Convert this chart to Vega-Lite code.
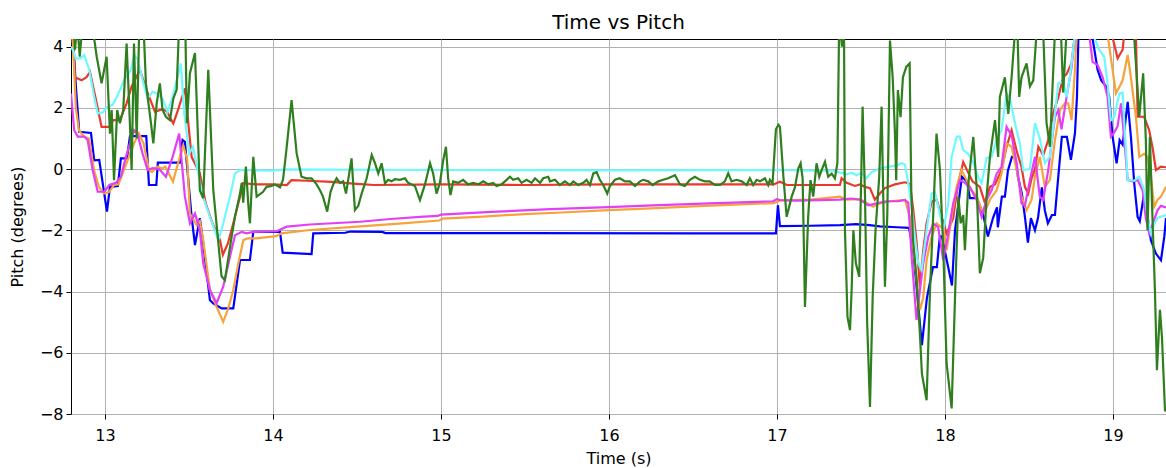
{
"$schema": "https://vega.github.io/schema/vega-lite/v6.json",
"width": 1095, "height": 375,
"autosize": "none",
"padding": {"left": 71, "top": 39, "right": 0, "bottom": 54},
"background": "white",
"title": {"text": "Time vs Pitch", "offset": 6},
"datasets": {
"blue": [
{"t":12.798,"v":4.8},{"t":12.808,"v":4.5},{"t":12.827,"v":2.7},{"t":12.847,"v":1.22},{"t":12.917,"v":1.18},{"t":12.936,"v":0.29},{"t":12.966,"v":0.3},{"t":12.99,"v":-0.58},{"t":13.012,"v":-1.39},{"t":13.03,"v":-0.58},{"t":13.077,"v":-0.55},{"t":13.095,"v":0.35},{"t":13.131,"v":0.35},{"t":13.149,"v":1.08},{"t":13.246,"v":1.08},{"t":13.262,"v":-0.52},{"t":13.306,"v":-0.52},{"t":13.315,"v":0.21},{"t":13.446,"v":0.21},{"t":13.462,"v":0.95},{"t":13.476,"v":0.89},{"t":13.516,"v":-1.56},{"t":13.536,"v":-2.48},{"t":13.565,"v":-1.6},{"t":13.585,"v":-2.42},{"t":13.625,"v":-4.28},{"t":13.645,"v":-4.39},{"t":13.695,"v":-4.55},{"t":13.764,"v":-4.55},{"t":13.804,"v":-2.97},{"t":13.863,"v":-2.97},{"t":13.883,"v":-2.05},{"t":14.042,"v":-2.05},{"t":14.058,"v":-2.73},{"t":14.23,"v":-2.78},{"t":14.24,"v":-2.1},{"t":14.43,"v":-2.08},{"t":14.46,"v":-2.04},{"t":14.65,"v":-2.05},{"t":14.67,"v":-2.09},{"t":15.5,"v":-2.09},{"t":16.5,"v":-2.1},{"t":16.994,"v":-2.1},{"t":17.006,"v":-1.18},{"t":17.018,"v":-1.86},{"t":17.2,"v":-1.85},{"t":17.375,"v":-1.83},{"t":17.47,"v":-1.8},{"t":17.55,"v":-1.83},{"t":17.613,"v":-1.87},{"t":17.714,"v":-1.9},{"t":17.786,"v":-1.92},{"t":17.81,"v":-2.6},{"t":17.833,"v":-3.95},{"t":17.863,"v":-5.75},{"t":17.893,"v":-4.2},{"t":17.929,"v":-3.2},{"t":17.952,"v":-3.2},{"t":17.97,"v":-2.2},{"t":17.982,"v":-2.2},{"t":18.012,"v":-3.0},{"t":18.042,"v":-3.8},{"t":18.06,"v":-2.0},{"t":18.101,"v":-0.25},{"t":18.131,"v":-0.4},{"t":18.149,"v":-0.95},{"t":18.19,"v":-0.95},{"t":18.226,"v":-1.45},{"t":18.256,"v":-2.2},{"t":18.286,"v":-1.6},{"t":18.31,"v":-1.25},{"t":18.315,"v":-1.9},{"t":18.339,"v":-0.9},{"t":18.357,"v":-0.9},{"t":18.375,"v":-0.05},{"t":18.399,"v":0.4},{"t":18.417,"v":0.4},{"t":18.435,"v":-0.25},{"t":18.458,"v":-0.8},{"t":18.476,"v":-1.55},{"t":18.494,"v":-2.4},{"t":18.512,"v":-1.6},{"t":18.536,"v":-2.0},{"t":18.554,"v":-1.6},{"t":18.577,"v":-0.6},{"t":18.595,"v":-1.35},{"t":18.613,"v":-1.77},{"t":18.637,"v":-1.5},{"t":18.655,"v":-1.5},{"t":18.673,"v":-0.36},{"t":18.696,"v":1.05},{"t":18.726,"v":1.05},{"t":18.75,"v":0.3},{"t":18.774,"v":1.17},{"t":18.786,"v":2.35},{"t":18.795,"v":4.4},{"t":18.84,"v":5.2},{"t":18.875,"v":4.4},{"t":18.909,"v":3.24},{"t":18.93,"v":2.9},{"t":18.96,"v":2.7},{"t":18.978,"v":2.36},{"t":18.998,"v":1.06},{"t":19.022,"v":0.19},{"t":19.04,"v":0.95},{"t":19.058,"v":0.8},{"t":19.088,"v":2.2},{"t":19.108,"v":1.0},{"t":19.127,"v":-0.47},{"t":19.147,"v":-1.56},{"t":19.16,"v":-1.7},{"t":19.18,"v":-1.0},{"t":19.2,"v":-1.3},{"t":19.226,"v":-2.32},{"t":19.256,"v":-2.76},{"t":19.286,"v":-2.98},{"t":19.306,"v":-2.2},{"t":19.316,"v":-1.6}
],
"red": [
{"t":12.798,"v":4.6},{"t":12.812,"v":4.0},{"t":12.821,"v":3.0},{"t":12.861,"v":2.9},{"t":12.89,"v":3.0},{"t":12.911,"v":3.18},{"t":12.951,"v":2.15},{"t":12.98,"v":1.38},{"t":13.03,"v":1.38},{"t":13.049,"v":1.6},{"t":13.089,"v":1.6},{"t":13.129,"v":2.15},{"t":13.159,"v":2.7},{"t":13.208,"v":3.24},{"t":13.248,"v":2.58},{"t":13.298,"v":1.87},{"t":13.337,"v":1.95},{"t":13.367,"v":1.9},{"t":13.407,"v":1.49},{"t":13.436,"v":1.95},{"t":13.476,"v":2.64},{"t":13.516,"v":0.4},{"t":13.565,"v":-0.14},{"t":13.6,"v":-1.12},{"t":13.64,"v":-1.77},{"t":13.685,"v":-2.32},{"t":13.702,"v":-2.8},{"t":13.732,"v":-2.43},{"t":13.764,"v":-1.77},{"t":13.804,"v":-0.9},{"t":13.821,"v":-0.46},{"t":13.9,"v":-0.5},{"t":14.0,"v":-0.5},{"t":14.083,"v":-0.52},{"t":14.11,"v":-0.36},{"t":14.2,"v":-0.38},{"t":14.35,"v":-0.42},{"t":14.5,"v":-0.48},{"t":14.6,"v":-0.52},{"t":15.0,"v":-0.5},{"t":15.5,"v":-0.52},{"t":16.0,"v":-0.5},{"t":16.5,"v":-0.5},{"t":16.98,"v":-0.5},{"t":17.018,"v":-0.41},{"t":17.06,"v":-0.52},{"t":17.375,"v":-0.52},{"t":17.385,"v":-0.3},{"t":17.415,"v":-0.45},{"t":17.464,"v":-0.55},{"t":17.494,"v":-0.5},{"t":17.524,"v":-0.58},{"t":17.554,"v":-0.62},{"t":17.583,"v":-1.0},{"t":17.613,"v":-0.8},{"t":17.643,"v":-0.62},{"t":17.702,"v":-0.5},{"t":17.762,"v":-0.43},{"t":17.792,"v":-0.48},{"t":17.812,"v":-1.35},{"t":17.832,"v":-2.43},{"t":17.851,"v":-3.85},{"t":17.871,"v":-2.65},{"t":17.891,"v":-1.77},{"t":17.921,"v":-1.07},{"t":17.951,"v":-1.0},{"t":17.98,"v":-1.55},{"t":18.01,"v":-2.1},{"t":18.049,"v":-1.6},{"t":18.079,"v":-0.46},{"t":18.109,"v":0.23},{"t":18.129,"v":0.0},{"t":18.164,"v":-0.4},{"t":18.208,"v":-0.58},{"t":18.238,"v":-1.1},{"t":18.268,"v":-0.58},{"t":18.298,"v":-0.5},{"t":18.337,"v":-0.03},{"t":18.367,"v":0.73},{"t":18.397,"v":1.27},{"t":18.427,"v":0.6},{"t":18.456,"v":0.07},{"t":18.476,"v":-0.58},{"t":18.496,"v":-0.8},{"t":18.516,"v":-0.3},{"t":18.536,"v":0.0},{"t":18.556,"v":0.73},{"t":18.585,"v":0.45},{"t":18.615,"v":0.95},{"t":18.645,"v":1.83},{"t":18.675,"v":2.35},{"t":18.704,"v":3.0},{"t":18.724,"v":3.1},{"t":18.754,"v":3.46},{"t":18.774,"v":4.4},{"t":18.82,"v":5.3},{"t":18.9,"v":5.6},{"t":18.99,"v":4.5},{"t":18.998,"v":4.3},{"t":19.028,"v":3.62},{"t":19.058,"v":3.9},{"t":19.067,"v":4.4},{"t":19.1,"v":5.0},{"t":19.137,"v":4.4},{"t":19.147,"v":1.71},{"t":19.186,"v":1.71},{"t":19.216,"v":1.27},{"t":19.236,"v":0.7},{"t":19.256,"v":-0.03},{"t":19.286,"v":0.08},{"t":19.316,"v":0.06}
],
"orange": [
{"t":12.798,"v":4.6},{"t":12.808,"v":4.3},{"t":12.827,"v":2.0},{"t":12.845,"v":1.27},{"t":12.875,"v":1.06},{"t":12.905,"v":1.0},{"t":12.935,"v":-0.03},{"t":12.964,"v":-0.58},{"t":12.994,"v":-0.8},{"t":13.024,"v":-0.75},{"t":13.054,"v":-0.52},{"t":13.08,"v":-0.5},{"t":13.113,"v":-0.03},{"t":13.143,"v":0.4},{"t":13.173,"v":0.84},{"t":13.202,"v":1.17},{"t":13.23,"v":0.84},{"t":13.262,"v":-0.03},{"t":13.28,"v":-0.1},{"t":13.31,"v":0.08},{"t":13.34,"v":0.02},{"t":13.36,"v":0.08},{"t":13.405,"v":-0.41},{"t":13.435,"v":0.19},{"t":13.466,"v":0.78},{"t":13.49,"v":0.3},{"t":13.506,"v":-1.45},{"t":13.546,"v":-1.83},{"t":13.565,"v":-1.7},{"t":13.585,"v":-2.32},{"t":13.625,"v":-3.95},{"t":13.665,"v":-4.5},{"t":13.704,"v":-4.99},{"t":13.734,"v":-4.55},{"t":13.764,"v":-3.95},{"t":13.794,"v":-3.08},{"t":13.824,"v":-2.32},{"t":13.85,"v":-2.26},{"t":13.9,"v":-2.26},{"t":14.02,"v":-2.19},{"t":14.05,"v":-2.1},{"t":14.22,"v":-1.99},{"t":14.5,"v":-1.88},{"t":14.75,"v":-1.78},{"t":14.99,"v":-1.68},{"t":15.01,"v":-1.62},{"t":15.25,"v":-1.55},{"t":15.5,"v":-1.47},{"t":15.75,"v":-1.41},{"t":16.0,"v":-1.34},{"t":16.25,"v":-1.28},{"t":16.5,"v":-1.22},{"t":16.75,"v":-1.16},{"t":16.98,"v":-1.11},{"t":17.018,"v":-1.03},{"t":17.2,"v":-1.0},{"t":17.375,"v":-0.9},{"t":17.415,"v":-1.0},{"t":17.494,"v":-0.98},{"t":17.573,"v":-1.23},{"t":17.613,"v":-1.12},{"t":17.673,"v":-1.05},{"t":17.762,"v":-1.01},{"t":17.792,"v":-1.56},{"t":17.821,"v":-3.08},{"t":17.851,"v":-4.6},{"t":17.871,"v":-4.2},{"t":17.891,"v":-2.97},{"t":17.921,"v":-2.2},{"t":17.951,"v":-1.77},{"t":17.99,"v":-1.95},{"t":18.01,"v":-2.65},{"t":18.04,"v":-1.56},{"t":18.07,"v":-0.58},{"t":18.099,"v":-0.03},{"t":18.129,"v":-0.36},{"t":18.159,"v":-0.69},{"t":18.189,"v":-0.9},{"t":18.218,"v":-1.34},{"t":18.238,"v":-1.4},{"t":18.268,"v":-1.0},{"t":18.308,"v":-0.69},{"t":18.337,"v":-0.14},{"t":18.367,"v":0.84},{"t":18.397,"v":0.73},{"t":18.427,"v":-0.03},{"t":18.456,"v":-0.9},{"t":18.486,"v":-1.34},{"t":18.516,"v":-1.0},{"t":18.536,"v":-0.25},{"t":18.565,"v":0.4},{"t":18.595,"v":-0.58},{"t":18.625,"v":-0.36},{"t":18.655,"v":0.95},{"t":18.685,"v":1.93},{"t":18.714,"v":2.15},{"t":18.734,"v":2.15},{"t":18.754,"v":1.6},{"t":18.774,"v":3.24},{"t":18.784,"v":4.4},{"t":18.85,"v":5.5},{"t":18.95,"v":5.5},{"t":18.968,"v":4.4},{"t":19.018,"v":2.47},{"t":19.038,"v":2.68},{"t":19.058,"v":2.9},{"t":19.088,"v":3.73},{"t":19.107,"v":3.0},{"t":19.137,"v":1.71},{"t":19.157,"v":0.4},{"t":19.186,"v":0.5},{"t":19.206,"v":0.4},{"t":19.226,"v":-0.25},{"t":19.246,"v":-1.23},{"t":19.266,"v":-1.0},{"t":19.286,"v":-0.9},{"t":19.316,"v":-0.58}
],
"magenta": [
{"t":12.798,"v":2.47},{"t":12.817,"v":1.27},{"t":12.838,"v":1.06},{"t":12.877,"v":1.06},{"t":12.897,"v":0.95},{"t":12.927,"v":-0.03},{"t":12.957,"v":-0.74},{"t":12.996,"v":-0.74},{"t":13.026,"v":-0.52},{"t":13.065,"v":-0.45},{"t":13.095,"v":-0.25},{"t":13.125,"v":0.4},{"t":13.155,"v":0.95},{"t":13.174,"v":1.27},{"t":13.194,"v":1.15},{"t":13.224,"v":0.51},{"t":13.254,"v":-0.03},{"t":13.284,"v":0.03},{"t":13.323,"v":0.0},{"t":13.363,"v":-0.25},{"t":13.403,"v":0.4},{"t":13.442,"v":1.16},{"t":13.476,"v":-0.9},{"t":13.506,"v":-1.77},{"t":13.536,"v":-1.45},{"t":13.565,"v":-2.0},{"t":13.585,"v":-3.08},{"t":13.625,"v":-3.95},{"t":13.665,"v":-4.38},{"t":13.704,"v":-3.84},{"t":13.744,"v":-2.87},{"t":13.774,"v":-2.16},{"t":13.814,"v":-2.05},{"t":13.843,"v":-2.1},{"t":13.883,"v":-2.05},{"t":14.022,"v":-2.03},{"t":14.082,"v":-1.88},{"t":14.22,"v":-1.81},{"t":14.518,"v":-1.72},{"t":14.7,"v":-1.63},{"t":14.875,"v":-1.56},{"t":14.98,"v":-1.53},{"t":15.0,"v":-1.49},{"t":15.3,"v":-1.4},{"t":15.65,"v":-1.31},{"t":16.0,"v":-1.24},{"t":16.3,"v":-1.18},{"t":16.6,"v":-1.12},{"t":16.976,"v":-1.05},{"t":17.0,"v":-0.98},{"t":17.018,"v":-1.01},{"t":17.117,"v":-1.03},{"t":17.375,"v":-1.0},{"t":17.444,"v":-0.96},{"t":17.494,"v":-1.0},{"t":17.544,"v":-1.18},{"t":17.593,"v":-1.12},{"t":17.653,"v":-1.05},{"t":17.722,"v":-1.05},{"t":17.762,"v":-1.01},{"t":17.782,"v":-1.1},{"t":17.802,"v":-2.87},{"t":17.831,"v":-4.93},{"t":17.851,"v":-3.95},{"t":17.871,"v":-3.08},{"t":17.901,"v":-2.21},{"t":17.931,"v":-1.77},{"t":17.96,"v":-1.9},{"t":17.99,"v":-2.97},{"t":18.02,"v":-2.1},{"t":18.049,"v":-1.12},{"t":18.089,"v":-0.36},{"t":18.119,"v":-0.45},{"t":18.149,"v":-0.6},{"t":18.189,"v":-1.01},{"t":18.218,"v":-1.56},{"t":18.248,"v":-1.0},{"t":18.278,"v":-0.69},{"t":18.308,"v":-0.15},{"t":18.337,"v":0.07},{"t":18.367,"v":1.38},{"t":18.397,"v":1.1},{"t":18.427,"v":0.2},{"t":18.456,"v":-1.12},{"t":18.476,"v":-1.2},{"t":18.506,"v":-0.36},{"t":18.536,"v":0.4},{"t":18.565,"v":-0.9},{"t":18.585,"v":-1.0},{"t":18.615,"v":-0.03},{"t":18.655,"v":1.7},{"t":18.675,"v":1.93},{"t":18.694,"v":1.3},{"t":18.724,"v":2.35},{"t":18.754,"v":3.33},{"t":18.774,"v":4.4},{"t":18.82,"v":5.2},{"t":18.859,"v":4.4},{"t":18.879,"v":3.5},{"t":18.909,"v":3.4},{"t":18.939,"v":3.0},{"t":18.968,"v":2.36},{"t":18.988,"v":1.06},{"t":19.008,"v":1.2},{"t":19.028,"v":1.4},{"t":19.048,"v":2.15},{"t":19.067,"v":1.0},{"t":19.088,"v":-0.36},{"t":19.117,"v":-0.4},{"t":19.147,"v":-0.36},{"t":19.177,"v":-0.69},{"t":19.196,"v":-1.6},{"t":19.216,"v":-2.1},{"t":19.236,"v":-1.8},{"t":19.266,"v":-1.34},{"t":19.286,"v":-1.2},{"t":19.316,"v":-1.25}
],
"cyan": [
{"t":12.798,"v":4.0},{"t":12.808,"v":3.9},{"t":12.827,"v":3.62},{"t":12.857,"v":3.62},{"t":12.877,"v":3.73},{"t":12.907,"v":3.24},{"t":12.936,"v":2.36},{"t":12.957,"v":1.82},{"t":12.986,"v":1.85},{"t":13.016,"v":2.04},{"t":13.046,"v":2.1},{"t":13.076,"v":2.42},{"t":13.115,"v":2.91},{"t":13.155,"v":3.24},{"t":13.174,"v":3.73},{"t":13.194,"v":3.6},{"t":13.224,"v":2.91},{"t":13.254,"v":2.31},{"t":13.284,"v":2.53},{"t":13.314,"v":2.45},{"t":13.343,"v":2.3},{"t":13.373,"v":1.87},{"t":13.403,"v":2.36},{"t":13.452,"v":3.45},{"t":13.472,"v":1.82},{"t":13.502,"v":0.51},{"t":13.524,"v":0.73},{"t":13.544,"v":0.19},{"t":13.583,"v":-0.9},{"t":13.625,"v":-1.56},{"t":13.675,"v":-2.32},{"t":13.704,"v":-1.77},{"t":13.744,"v":-0.9},{"t":13.774,"v":-0.14},{"t":13.804,"v":-0.03},{"t":14.0,"v":-0.05},{"t":14.08,"v":-0.01},{"t":14.3,"v":-0.02},{"t":15.0,"v":-0.03},{"t":16.0,"v":-0.04},{"t":16.99,"v":-0.03},{"t":17.018,"v":-0.03},{"t":17.216,"v":-0.05},{"t":17.335,"v":-0.05},{"t":17.415,"v":-0.17},{"t":17.444,"v":-0.12},{"t":17.474,"v":-0.2},{"t":17.504,"v":-0.12},{"t":17.534,"v":-0.3},{"t":17.563,"v":-0.1},{"t":17.593,"v":-0.03},{"t":17.633,"v":0.05},{"t":17.673,"v":0.08},{"t":17.712,"v":0.12},{"t":17.742,"v":0.19},{"t":17.762,"v":0.15},{"t":17.782,"v":-0.47},{"t":17.802,"v":-1.23},{"t":17.821,"v":-2.21},{"t":17.841,"v":-3.08},{"t":17.861,"v":-3.3},{"t":17.891,"v":-2.0},{"t":17.921,"v":-0.8},{"t":17.94,"v":-0.75},{"t":17.96,"v":-1.23},{"t":17.99,"v":-2.0},{"t":18.02,"v":-1.12},{"t":18.04,"v":0.4},{"t":18.07,"v":1.06},{"t":18.089,"v":1.06},{"t":18.109,"v":0.62},{"t":18.139,"v":0.5},{"t":18.169,"v":0.2},{"t":18.198,"v":-0.25},{"t":18.218,"v":-0.46},{"t":18.248,"v":0.36},{"t":18.278,"v":0.4},{"t":18.308,"v":0.95},{"t":18.337,"v":1.27},{"t":18.367,"v":2.48},{"t":18.387,"v":2.3},{"t":18.417,"v":1.5},{"t":18.446,"v":0.84},{"t":18.466,"v":-0.03},{"t":18.506,"v":0.0},{"t":18.536,"v":1.5},{"t":18.565,"v":1.0},{"t":18.595,"v":0.2},{"t":18.625,"v":0.4},{"t":18.655,"v":1.83},{"t":18.675,"v":2.8},{"t":18.704,"v":2.85},{"t":18.724,"v":2.35},{"t":18.744,"v":3.0},{"t":18.774,"v":4.4},{"t":18.82,"v":5.0},{"t":18.889,"v":4.3},{"t":18.918,"v":3.9},{"t":18.948,"v":3.67},{"t":18.968,"v":2.8},{"t":18.988,"v":1.6},{"t":19.008,"v":1.7},{"t":19.038,"v":2.47},{"t":19.058,"v":2.5},{"t":19.067,"v":1.6},{"t":19.088,"v":-0.36},{"t":19.127,"v":-0.38},{"t":19.157,"v":-0.25},{"t":19.186,"v":-0.69},{"t":19.206,"v":-1.56},{"t":19.226,"v":-2.1},{"t":19.246,"v":-1.8},{"t":19.266,"v":-1.6},{"t":19.286,"v":-1.55},{"t":19.316,"v":-1.5}
],
"green": [
{"t":12.798,"v":4.6},{"t":12.808,"v":5.0},{"t":12.822,"v":3.9},{"t":12.835,"v":4.8},{"t":12.85,"v":3.67},{"t":12.87,"v":5.0},{"t":12.9,"v":5.5},{"t":12.93,"v":4.5},{"t":12.951,"v":3.67},{"t":12.98,"v":2.8},{"t":13.01,"v":3.67},{"t":13.03,"v":1.16},{"t":13.04,"v":1.93},{"t":13.054,"v":-0.36},{"t":13.073,"v":1.93},{"t":13.089,"v":1.5},{"t":13.109,"v":1.93},{"t":13.129,"v":4.1},{"t":13.145,"v":2.0},{"t":13.159,"v":-0.03},{"t":13.173,"v":4.1},{"t":13.189,"v":1.0},{"t":13.205,"v":4.8},{"t":13.225,"v":5.3},{"t":13.244,"v":2.8},{"t":13.274,"v":1.5},{"t":13.288,"v":0.84},{"t":13.308,"v":2.15},{"t":13.327,"v":2.8},{"t":13.343,"v":1.93},{"t":13.363,"v":1.71},{"t":13.387,"v":1.6},{"t":13.407,"v":2.3},{"t":13.427,"v":2.6},{"t":13.442,"v":4.8},{"t":13.46,"v":4.5},{"t":13.476,"v":5.5},{"t":13.488,"v":1.5},{"t":13.506,"v":3.13},{"t":13.536,"v":3.79},{"t":13.565,"v":-0.7},{"t":13.585,"v":-0.95},{"t":13.615,"v":3.24},{"t":13.645,"v":-0.69},{"t":13.694,"v":-3.5},{"t":13.714,"v":-3.63},{"t":13.754,"v":-2.21},{"t":13.774,"v":-1.56},{"t":13.804,"v":-0.8},{"t":13.814,"v":-0.45},{"t":13.823,"v":-1.1},{"t":13.839,"v":0.08},{"t":13.853,"v":-1.12},{"t":13.863,"v":-1.77},{"t":13.883,"v":0.4},{"t":13.903,"v":-0.9},{"t":13.94,"v":-0.75},{"t":13.962,"v":-0.58},{"t":13.992,"v":-0.55},{"t":14.012,"v":-0.5},{"t":14.042,"v":-0.6},{"t":14.06,"v":-0.35},{"t":14.08,"v":0.62},{"t":14.111,"v":2.25},{"t":14.141,"v":0.52},{"t":14.17,"v":-0.25},{"t":14.2,"v":-0.3},{"t":14.23,"v":-0.3},{"t":14.26,"v":-0.5},{"t":14.28,"v":-0.69},{"t":14.298,"v":-0.9},{"t":14.323,"v":-1.39},{"t":14.343,"v":-0.74},{"t":14.359,"v":-0.5},{"t":14.379,"v":-0.3},{"t":14.399,"v":-0.45},{"t":14.418,"v":-0.4},{"t":14.435,"v":-0.8},{"t":14.448,"v":-0.35},{"t":14.468,"v":0.35},{"t":14.488,"v":-1.34},{"t":14.508,"v":-1.2},{"t":14.528,"v":-0.8},{"t":14.558,"v":-0.3},{"t":14.588,"v":0.46},{"t":14.607,"v":0.2},{"t":14.627,"v":-0.14},{"t":14.647,"v":0.19},{"t":14.667,"v":-0.47},{"t":14.686,"v":-0.35},{"t":14.706,"v":-0.4},{"t":14.726,"v":-0.33},{"t":14.756,"v":-0.35},{"t":14.786,"v":-0.3},{"t":14.805,"v":-0.45},{"t":14.826,"v":-0.5},{"t":14.845,"v":-0.55},{"t":14.875,"v":-1.01},{"t":14.905,"v":-0.5},{"t":14.935,"v":0.19},{"t":14.954,"v":-0.15},{"t":14.974,"v":-0.8},{"t":14.994,"v":-0.45},{"t":15.014,"v":0.3},{"t":15.03,"v":0.73},{"t":15.043,"v":-0.3},{"t":15.057,"v":-0.85},{"t":15.073,"v":-0.4},{"t":15.103,"v":-0.45},{"t":15.132,"v":-0.35},{"t":15.162,"v":-0.5},{"t":15.192,"v":-0.45},{"t":15.222,"v":-0.5},{"t":15.252,"v":-0.4},{"t":15.282,"v":-0.5},{"t":15.311,"v":-0.45},{"t":15.331,"v":-0.55},{"t":15.361,"v":-0.5},{"t":15.391,"v":-0.35},{"t":15.411,"v":-0.25},{"t":15.43,"v":-0.35},{"t":15.46,"v":-0.3},{"t":15.48,"v":-0.45},{"t":15.51,"v":-0.35},{"t":15.54,"v":-0.45},{"t":15.56,"v":-0.3},{"t":15.59,"v":-0.45},{"t":15.609,"v":-0.3},{"t":15.639,"v":-0.25},{"t":15.649,"v":-0.4},{"t":15.679,"v":-0.35},{"t":15.708,"v":-0.52},{"t":15.738,"v":-0.4},{"t":15.768,"v":-0.52},{"t":15.788,"v":-0.4},{"t":15.818,"v":-0.52},{"t":15.847,"v":-0.45},{"t":15.867,"v":-0.35},{"t":15.887,"v":-0.52},{"t":15.907,"v":-0.14},{"t":15.927,"v":-0.1},{"t":15.946,"v":-0.35},{"t":15.966,"v":-0.52},{"t":15.99,"v":-0.8},{"t":16.006,"v":-0.55},{"t":16.036,"v":-0.35},{"t":16.065,"v":-0.3},{"t":16.095,"v":-0.4},{"t":16.125,"v":-0.4},{"t":16.155,"v":-0.55},{"t":16.185,"v":-0.4},{"t":16.204,"v":-0.35},{"t":16.234,"v":-0.4},{"t":16.26,"v":-0.52},{"t":16.294,"v":-0.4},{"t":16.323,"v":-0.35},{"t":16.353,"v":-0.3},{"t":16.393,"v":-0.2},{"t":16.423,"v":-0.5},{"t":16.452,"v":-0.55},{"t":16.482,"v":-0.35},{"t":16.512,"v":-0.25},{"t":16.542,"v":-0.35},{"t":16.571,"v":-0.4},{"t":16.6,"v":-0.4},{"t":16.631,"v":-0.52},{"t":16.661,"v":-0.52},{"t":16.69,"v":-0.4},{"t":16.71,"v":-0.14},{"t":16.73,"v":-0.4},{"t":16.76,"v":-0.35},{"t":16.79,"v":-0.4},{"t":16.82,"v":-0.52},{"t":16.839,"v":-0.3},{"t":16.859,"v":-0.52},{"t":16.879,"v":-0.35},{"t":16.899,"v":-0.4},{"t":16.929,"v":-0.3},{"t":16.948,"v":-0.52},{"t":16.958,"v":-0.35},{"t":16.974,"v":-0.47},{"t":16.994,"v":1.3},{"t":17.009,"v":1.45},{"t":17.018,"v":1.38},{"t":17.038,"v":-0.2},{"t":17.058,"v":-1.56},{"t":17.088,"v":-0.9},{"t":17.107,"v":-0.6},{"t":17.127,"v":0.02},{"t":17.141,"v":0.19},{"t":17.153,"v":-0.3},{"t":17.167,"v":-4.5},{"t":17.186,"v":-1.56},{"t":17.2,"v":-0.36},{"t":17.216,"v":-0.9},{"t":17.236,"v":0.19},{"t":17.252,"v":-0.25},{"t":17.266,"v":-0.03},{"t":17.286,"v":0.24},{"t":17.305,"v":-0.25},{"t":17.326,"v":-0.15},{"t":17.345,"v":-0.3},{"t":17.36,"v":0.2},{"t":17.371,"v":5.0},{"t":17.387,"v":4.0},{"t":17.399,"v":5.0},{"t":17.405,"v":-2.0},{"t":17.42,"v":-4.83},{"t":17.435,"v":-5.26},{"t":17.445,"v":-3.9},{"t":17.455,"v":-2.0},{"t":17.47,"v":-3.08},{"t":17.49,"v":-3.52},{"t":17.51,"v":2.04},{"t":17.524,"v":-0.8},{"t":17.537,"v":-5.0},{"t":17.554,"v":-7.77},{"t":17.57,"v":-4.17},{"t":17.587,"v":-2.0},{"t":17.609,"v":-0.25},{"t":17.623,"v":2.04},{"t":17.643,"v":-3.84},{"t":17.657,"v":-1.5},{"t":17.673,"v":4.2},{"t":17.689,"v":3.0},{"t":17.702,"v":1.27},{"t":17.71,"v":-0.36},{"t":17.72,"v":2.58},{"t":17.736,"v":1.7},{"t":17.75,"v":3.0},{"t":17.77,"v":3.34},{"t":17.79,"v":3.45},{"t":17.8,"v":-0.8},{"t":17.81,"v":-2.3},{"t":17.83,"v":-3.5},{"t":17.85,"v":-5.26},{"t":17.863,"v":-6.68},{"t":17.891,"v":-7.55},{"t":17.911,"v":-4.0},{"t":17.93,"v":-1.56},{"t":17.95,"v":1.16},{"t":17.97,"v":0.0},{"t":17.99,"v":-2.54},{"t":18.01,"v":-6.35},{"t":18.04,"v":-7.82},{"t":18.06,"v":-4.2},{"t":18.08,"v":-0.9},{"t":18.094,"v":-1.77},{"t":18.109,"v":-1.5},{"t":18.119,"v":-2.65},{"t":18.139,"v":-0.5},{"t":18.169,"v":1.05},{"t":18.189,"v":-0.6},{"t":18.208,"v":-3.4},{"t":18.228,"v":-2.9},{"t":18.248,"v":-0.9},{"t":18.268,"v":0.4},{"t":18.298,"v":1.6},{"t":18.317,"v":0.4},{"t":18.327,"v":2.36},{"t":18.357,"v":3.0},{"t":18.377,"v":1.8},{"t":18.397,"v":3.0},{"t":18.417,"v":4.5},{"t":18.429,"v":5.2},{"t":18.442,"v":2.36},{"t":18.456,"v":3.0},{"t":18.486,"v":3.45},{"t":18.506,"v":2.7},{"t":18.526,"v":2.9},{"t":18.546,"v":4.5},{"t":18.565,"v":5.3},{"t":18.585,"v":4.5},{"t":18.605,"v":1.5},{"t":18.625,"v":0.73},{"t":18.655,"v":4.5},{"t":18.685,"v":5.3},{"t":18.704,"v":2.5},{"t":18.724,"v":4.5},{"t":18.76,"v":5.5},{"t":18.85,"v":6.0},{"t":18.95,"v":5.5},{"t":19.05,"v":6.0},{"t":19.11,"v":5.0},{"t":19.127,"v":4.3},{"t":19.157,"v":1.71},{"t":19.18,"v":3.13},{"t":19.196,"v":0.95},{"t":19.206,"v":-2.0},{"t":19.22,"v":1.06},{"t":19.235,"v":-1.5},{"t":19.25,"v":-3.95},{"t":19.262,"v":-6.57},{"t":19.28,"v":-4.6},{"t":19.292,"v":-5.5},{"t":19.31,"v":-7.88},{"t":19.316,"v":-7.9}
]
},
"encoding": {
"x": {"field": "t", "type": "quantitative", "scale": {"domain": [12.798, 19.316], "nice": false, "zero": false},
 "axis": {"title": "Time (s)", "values": [13,14,15,16,17,18,19], "format": "d", "labelPadding": 8, "titlePadding": 7}},
"y": {"field": "v", "type": "quantitative", "scale": {"domain": [-8, 4.25], "nice": false, "zero": false},
 "axis": {"title": "Pitch (degrees)", "values": [-8,-6,-4,-2,0,2,4], "labelExpr": "replace(toString(datum.value), '-', '\u2212')", "labelPadding": 3, "titlePadding": 14}}
},
"layer": [
{"data": {"name": "blue"}, "mark": {"type": "line", "color": "#0000ff", "strokeWidth": 2.2, "clip": true}},
{"data": {"name": "red"}, "mark": {"type": "line", "color": "#e8392b", "strokeWidth": 2.2, "clip": true}},
{"data": {"name": "orange"}, "mark": {"type": "line", "color": "#f5a33a", "strokeWidth": 2.2, "clip": true}},
{"data": {"name": "magenta"}, "mark": {"type": "line", "color": "#e33ff5", "strokeWidth": 2.2, "clip": true}},
{"data": {"name": "cyan"}, "mark": {"type": "line", "color": "#6ff8ff", "strokeWidth": 2.2, "clip": true}},
{"data": {"name": "green"}, "mark": {"type": "line", "color": "#2f7f1f", "strokeWidth": 2.2, "clip": true}}
],
"config": {
"font": "DejaVu Sans",
"view": {"stroke": "#000000", "strokeWidth": 1},
"axis": {"grid": true, "gridColor": "#b0b0b0", "gridWidth": 1, "domain": false, "ticks": true, "tickColor": "#000000", "tickSize": 5, "tickWidth": 1,
 "labelFont": "DejaVu Sans", "labelFontSize": 16, "labelColor": "#000000", "titleFont": "DejaVu Sans", "titleFontSize": 16, "titleColor": "#000000", "titleFontWeight": "normal"},
"title": {"font": "DejaVu Sans", "fontSize": 20, "fontWeight": "normal", "color": "#000000"}
}
}
